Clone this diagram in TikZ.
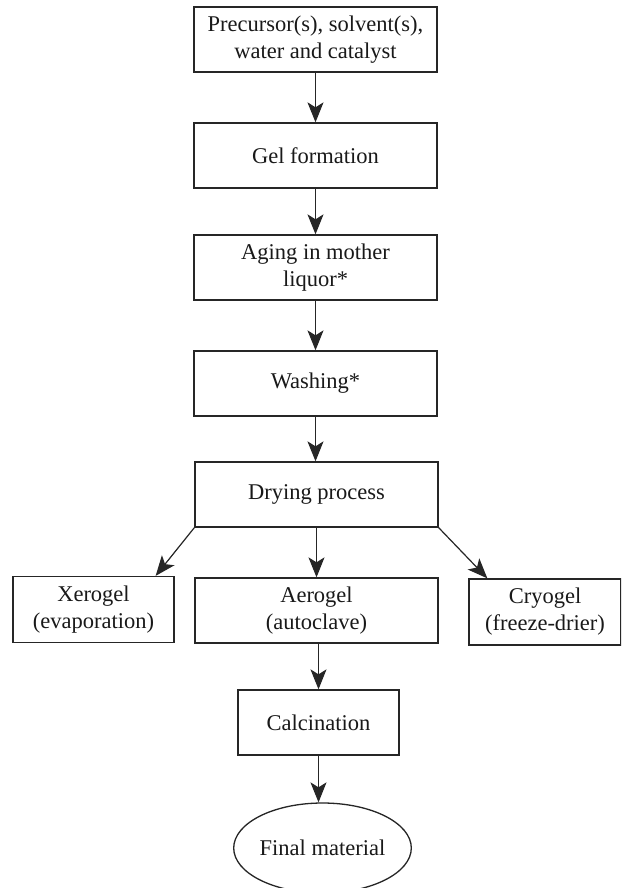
\documentclass[tikz,border=0pt]{standalone}
\usepackage{fontspec}
\setmainfont{Liberation Serif}
\usetikzlibrary{arrows.meta,calc,shapes.geometric}
\begin{document}
\begin{tikzpicture}[x=1pt,y=-1pt,
  every node/.style={font=\fontsize{22.5}{27}\selectfont, text=black!90},
  box/.style={draw=black!85, line width=1.3pt, rectangle, align=center, inner sep=0pt,
    minimum width=243pt, minimum height=65pt},
  sbox/.style={box, minimum width=161pt, minimum height=66pt},
  oval/.style={draw=black!85, line width=1.3pt, ellipse, inner sep=0pt,
    minimum width=149pt, minimum height=90pt},
  flow/.style={draw=black!85, line width=1.2pt, -{Stealth[length=20pt,width=16pt,inset=5pt]}}]
\path[use as bounding box] (0,0) rectangle (621,888);
\fill[white] (0,0) rectangle (621,888);
\begin{scope}
\clip (0,0) rectangle (621,888);
\node[box] (pre) at (315.5,39.5) {Precursor(s), solvent(s),\\water and catalyst};
\node[box] (gel) at (315.5,155.5) {Gel formation};
\node[box] (age) at (315.5,267.5) {Aging in mother\\liquor*};
\node[box] (wash) at (315.5,383.5) {Washing*};
\node[box] (dry) at (316.5,494.5) {Drying process};
\node[box] (aer) at (316.5,610.5) {Aerogel\\(autoclave)};
\node[sbox] (xer) at (93.5,609.5) {Xerogel\\(evaporation)};
\node[sbox, minimum width=152pt] (cry) at (545,612) {Cryogel\\(freeze-drier)};
\node[sbox, minimum height=65pt] (cal) at (318.5,722.5) {Calcination};
\node[oval] (fin) at (322.5,848) {Final material};
\coordinate (xin) at ($(xer.north east)+(-19pt,0)$);
\coordinate (cin) at ($(cry.north west)+(19pt,0)$);
\draw[flow] (pre.south) -- (gel.north);
\draw[flow] (gel.south) -- (age.north);
\draw[flow] (age.south) -- (wash.north);
\draw[flow] (wash.south) -- (wash.south |- dry.north);
\draw[flow] (dry.south) -- (aer.north);
\draw[flow] (dry.south west) -- (xin);
\draw[flow] (dry.south east) -- (cin);
\draw[flow] (aer.south -| cal.north) -- (cal.north);
\draw[flow] (cal.south) -- (cal.south |- fin.north);
\end{scope}
\end{tikzpicture}
\end{document}
